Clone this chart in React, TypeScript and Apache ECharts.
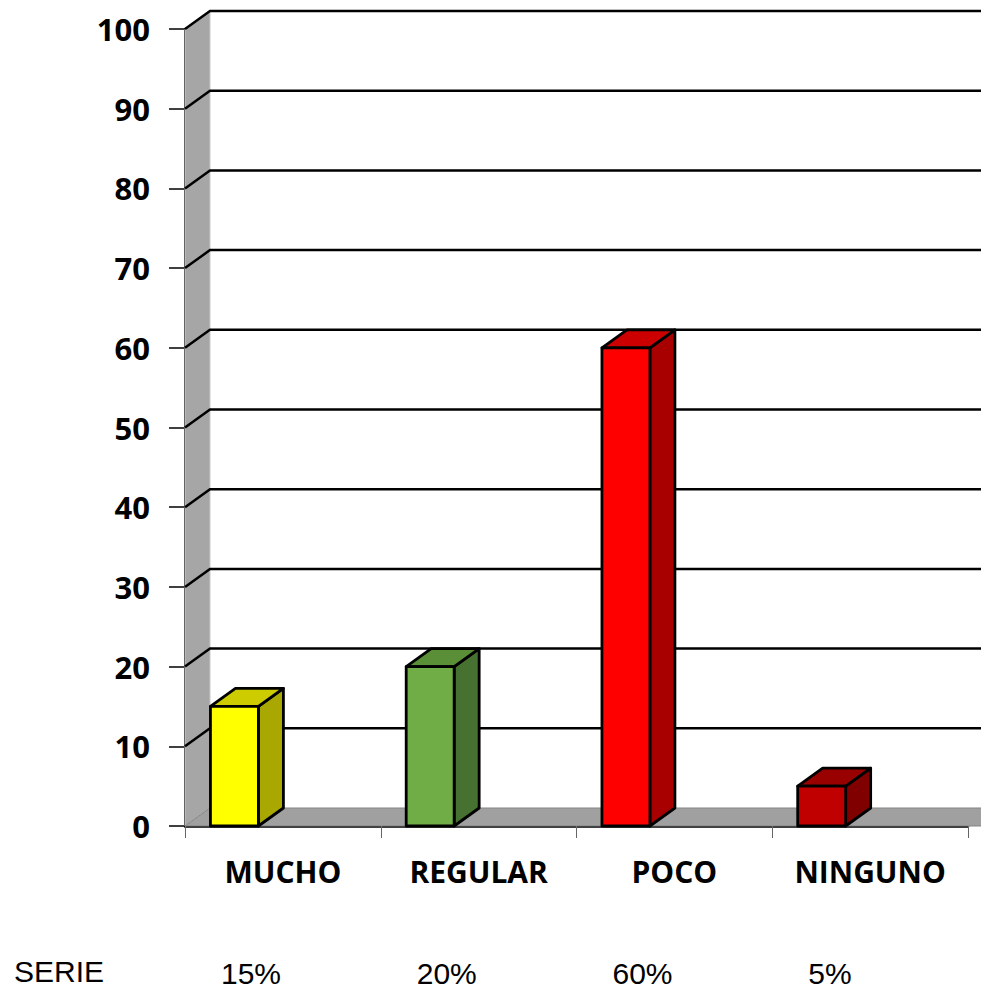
import React, { useEffect, useRef } from "react";
import * as echarts from "echarts";

const categories = ["MUCHO", "REGULAR", "POCO", "NINGUNO"];
const values = [15, 20, 60, 5];
const percentLabels = ["15%", "20%", "60%", "5%"];
const seriesName = "SERIE";
const yTicks = [0, 10, 20, 30, 40, 50, 60, 70, 80, 90, 100];
const frontColors = ["#ffff00", "#70ad47", "#ff0000", "#c00000"];
const sideColors = ["#a8a800", "#467130", "#a80000", "#800000"];
const topColors = ["#cccc00", "#5a8f38", "#cc0000", "#990000"];

const DX = 25;
const DY = -18;

export default function App() {
  const ref = useRef<HTMLDivElement>(null);
  useEffect(() => {
    const chart = echarts.init(ref.current!, null, { renderer: "svg" });
    const option: any = {
      animation: false,
      backgroundColor: "#ffffff",
      grid: { left: 185, right: 13, top: 29, bottom: 166, containLabel: false },
      xAxis: {
        type: "category",
        data: categories,
        axisLine: { show: true, lineStyle: { color: "#000", width: 2.5 } },
        axisTick: { show: true, interval: 0, length: 12, lineStyle: { color: "#666", width: 1 } },
        axisLabel: {
          interval: 0,
          hideOverlap: false,
          margin: 30,
          fontFamily: "Open Sans",
          fontWeight: "bold",
          fontSize: 30,
          color: "#000",
        },
        splitLine: { show: false },
      },
      yAxis: {
        type: "value",
        min: 0,
        max: 100,
        interval: 10,
        axisLine: { show: true, lineStyle: { color: "#000", width: 2 } },
        axisTick: { show: true, length: 16, lineStyle: { color: "#000", width: 1.5 } },
        axisLabel: {
          margin: 35,
          fontFamily: "Open Sans",
          fontWeight: "bold",
          fontSize: 31,
          color: "#000",
        },
        splitLine: { show: false },
      },
      graphic: [
        {
          type: "text",
          left: 14,
          top: 956,
          style: {
            text: seriesName,
            fontFamily: "Liberation Sans",
            fontSize: 30,
            fill: "#000",
          },
        },
      ],
      series: [
        {
          type: "custom",
          name: "frame",
          data: yTicks.map((t) => [0, t]),
          z: 1,
          renderItem: (params: any, api: any) => {
            const cs = params.coordSys;
            const v = api.value(1);
            const y = api.coord([0, v])[1];
            const x0 = cs.x;
            const x1 = cs.x + cs.width;
            const yBottom = cs.y + cs.height;
            const yTop = cs.y;
            const children: any[] = [];
            if (v === 0) {
              children.push({
                type: "polygon",
                shape: {
                  points: [
                    [x0, yTop],
                    [x0 + DX, yTop + DY],
                    [x0 + DX, yBottom + DY],
                    [x0, yBottom],
                  ],
                },
                style: { fill: "#a6a6a6", stroke: "#c8c8c8", lineWidth: 1 },
              });
              children.push({
                type: "polygon",
                shape: {
                  points: [
                    [x0, yBottom],
                    [x0 + DX, yBottom + DY],
                    [x1 + DX + 20, yBottom + DY],
                    [x1 + DX, yBottom],
                  ],
                },
                style: { fill: "#a0a0a0", stroke: "#858585", lineWidth: 1 },
              });
            } else {
              children.push({
                type: "polyline",
                shape: {
                  points: [
                    [x0, y],
                    [x0 + DX, y + DY],
                    [x1 + DX + 20, y + DY],
                  ],
                },
                style: { fill: null, stroke: "#000", lineWidth: 2.5 },
              });
            }
            return { type: "group", children };
          },
        },
        {
          type: "custom",
          name: "bars",
          data: values.map((v, i) => [i, v]),
          z: 3,
          renderItem: (params: any, api: any) => {
            const cs = params.coordSys;
            const i = api.value(0);
            const v = api.value(1);
            const band = api.size([1, 0])[0];
            const center = api.coord([i, v]);
            const bandStart = center[0] - band / 2;
            const w = band * 0.245;
            const bx = bandStart + band * 0.13;
            const yTop = center[1];
            const yBot = api.coord([i, 0])[1];
            const stroke = { stroke: "#000", lineWidth: 2.8, lineJoin: "round" };
            return {
              type: "group",
              children: [
                {
                  type: "polygon",
                  shape: {
                    points: [
                      [bx + w, yBot],
                      [bx + w + DX, yBot + DY],
                      [bx + w + DX, yTop + DY],
                      [bx + w, yTop],
                    ],
                  },
                  style: { fill: sideColors[i], ...stroke },
                },
                {
                  type: "polygon",
                  shape: {
                    points: [
                      [bx, yTop],
                      [bx + DX, yTop + DY],
                      [bx + w + DX, yTop + DY],
                      [bx + w, yTop],
                    ],
                  },
                  style: { fill: topColors[i], ...stroke },
                },
                {
                  type: "rect",
                  shape: { x: bx, y: yTop, width: w, height: yBot - yTop },
                  style: { fill: frontColors[i], ...stroke },
                },
                {
                  type: "text",
                  style: {
                    text: percentLabels[i],
                    x: bandStart + 36,
                    y: cs.y + cs.height + 147,
                    fontFamily: "Liberation Sans",
                    fontSize: 30,
                    fill: "#000",
                    align: "left",
                    verticalAlign: "middle",
                  },
                },
              ],
            };
          },
        },
      ],
    };
    chart.setOption(option);
    return () => chart.dispose();
  }, []);
  return (
    <div
      ref={ref}
      style={{ position: "absolute", left: 0, top: 0, width: 981, height: 992 }}
    />
  );
}
